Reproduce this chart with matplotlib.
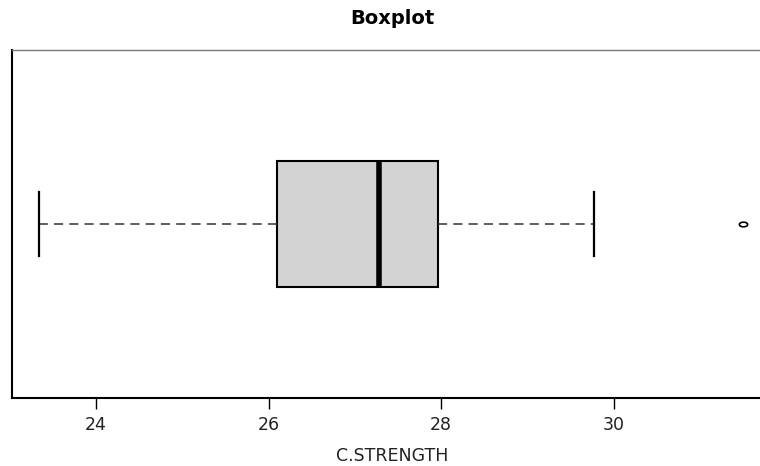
import matplotlib
matplotlib.use("Agg")
import matplotlib.pyplot as plt
from matplotlib.path import Path
from matplotlib.transforms import Affine2D

# five-number summary of compressive strength
variable = "C.STRENGTH"
whisker_low = 23.34
q1 = 26.095
median = 27.277
q3 = 27.967
whisker_high = 29.775
outliers = [31.5]
x_ticks = [24, 26, 28, 30]

stats = [{
    "whislo": whisker_low,
    "q1": q1,
    "med": median,
    "q3": q3,
    "whishi": whisker_high,
    "fliers": outliers,
}]

plt.rcParams["font.family"] = ["DejaVu Sans"]

fig = plt.figure(figsize=(7.6, 4.66), dpi=100)
ax = fig.add_axes([12 / 760, 68 / 466, 760 / 760, 348 / 466])

# open ellipse for the outlier point
ellipse = Path.unit_circle().transformed(Affine2D().scale(1.8, 1.0))

ax.bxp(
    stats,
    positions=[1],
    widths=0.394,
    capwidths=0.2,
    orientation="horizontal",
    patch_artist=True,
    boxprops=dict(facecolor="#d3d3d3", edgecolor="black", linewidth=1.5),
    medianprops=dict(color="black", linewidth=4, solid_capstyle="butt"),
    whiskerprops=dict(color="#333333", linewidth=1.1, linestyle=(0, (6, 4))),
    capprops=dict(color="black", linewidth=1.6),
    flierprops=dict(marker=ellipse, markersize=6, markerfacecolor="none",
                    markeredgecolor="black", markeredgewidth=1.2),
)

ax.set_xlim(23.027, 31.833)
ax.set_ylim(0.46, 1.54)
ax.set_xticks(x_ticks)
ax.set_xticklabels([str(t) for t in x_ticks])
ax.set_yticks([])
ax.tick_params(axis="x", length=8, width=1, pad=5, labelsize=12.5, colors="black",
               labelcolor="#222222")

for side in ["left", "bottom"]:
    ax.spines[side].set_linewidth(1.5)
    ax.spines[side].set_color("black")
ax.spines["top"].set_color("#777777")
ax.spines["top"].set_linewidth(1.0)

ax.set_xlabel(variable, fontsize=12.5, labelpad=9, color="#222222")
ax.set_title("Boxplot", fontsize=14, fontweight="bold", pad=19, x=(392 - 12) / 760)

fig.savefig("out.png", dpi=100)
